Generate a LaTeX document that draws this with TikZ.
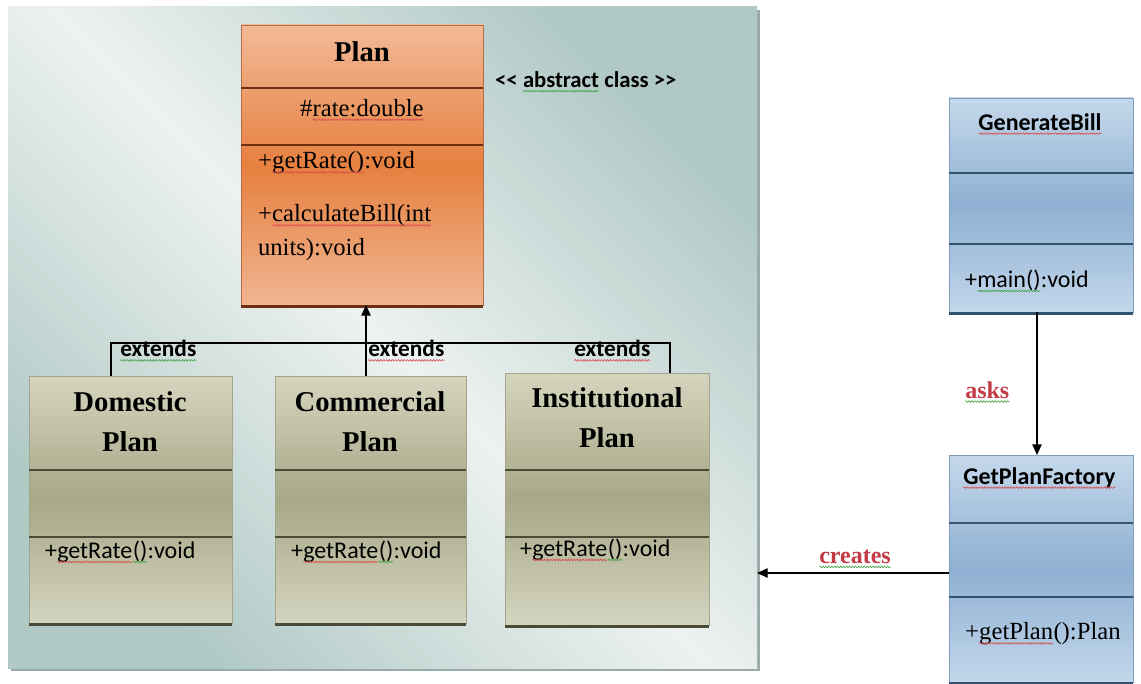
\documentclass[tikz,border=0pt]{standalone}
\usepackage{fontspec}
\setmainfont{Liberation Serif}
\newfontfamily\calibri{Carlito}
\usetikzlibrary{arrows.meta,positioning,fit,decorations.pathmorphing}
\definecolor{panelteal}{HTML}{B0C9C5}
\definecolor{panellight}{HTML}{EDF2F1}
\definecolor{panelshadow}{HTML}{9AAAA8}
\definecolor{orangetop}{HTML}{F2BA97}
\definecolor{orangemid}{HTML}{E6803F}
\definecolor{orangebot}{HTML}{F0B490}
\definecolor{orangeedge}{HTML}{B86A44}
\definecolor{orangedark}{HTML}{6E2E12}
\definecolor{olivetop}{HTML}{D4D5BD}
\definecolor{olivemid}{HTML}{A7A887}
\definecolor{olivebot}{HTML}{D4D5BF}
\definecolor{oliveedge}{HTML}{A3A48A}
\definecolor{olivedark}{HTML}{4A4B36}
\definecolor{bluetop}{HTML}{C5D8EB}
\definecolor{bluemid}{HTML}{8EB0D2}
\definecolor{bluebot}{HTML}{C3D7EB}
\definecolor{blueedge}{HTML}{7E9DBC}
\definecolor{bluedark}{HTML}{34536F}
\definecolor{labelred}{HTML}{C23B45}
\definecolor{squigred}{HTML}{D8494B}
\definecolor{squiggreen}{HTML}{3FA043}

% wavy spell-check underline below a word
\newcommand\squig[2]{\tikz[baseline=(sq.base)]{\node[inner sep=0pt,outer sep=0pt] (sq) {#2};
  \draw[#1,line width=0.45pt,decorate,decoration={snake,amplitude=0.6pt,segment length=2.2pt}]
    ([yshift=-2.6pt]sq.base west) -- ([yshift=-2.6pt]sq.base east);}}

\begin{document}
\begin{tikzpicture}[x=0.75pt,y=-0.75pt]
\tikzstyle{plain}=[inner sep=0pt,outer sep=0pt]
\tikzstyle{orangebox}=[plain,draw=orangeedge,top color=orangetop,bottom color=orangebot,middle color=orangemid]
\tikzstyle{olivebox}=[plain,draw=oliveedge,top color=olivetop,bottom color=olivebot,middle color=olivemid]
\tikzstyle{bluebox}=[plain,draw=blueedge,top color=bluetop,bottom color=bluebot,middle color=bluemid]
\tikzstyle{sep}=[line width=1.5pt]
\tikzstyle{title}=[plain,font=\fontsize{21.5}{30}\selectfont\bfseries,align=center]
\tikzstyle{member}=[plain,font=\fontsize{18.5}{25.5}\selectfont,anchor=west,align=left]
\tikzstyle{sansmember}=[plain,font=\calibri\fontsize{18}{22}\selectfont,anchor=west]
\tikzstyle{sanshead}=[plain,font=\calibri\bfseries\fontsize{18}{22}\selectfont]
\tikzstyle{extlabel}=[plain,font=\calibri\bfseries\fontsize{17.5}{20}\selectfont,anchor=west]
\tikzstyle{redlabel}=[plain,font=\bfseries\fontsize{18}{22}\selectfont,text=labelred]
\tikzstyle{line}=[line width=1pt]
\tikzstyle{arrow}=[line width=1pt,-{Triangle[width=7pt,length=8pt]}]

\useasboundingbox (0,0) rectangle (1141,684);
\fill[white] (0,0) rectangle (1141,684);

% shaded panel holding the plan hierarchy
\fill[panelshadow] (11,10) rectangle (760,671);
\node[plain,fit={(8,7) (757,668)},left color=panelteal,right color=panelteal,middle color=panellight,shading angle=-45] (panel) {};

% abstract class
\node[orangebox,fit={(241,25) (483,305)}] (plan) {};
\draw[orangedark,line width=2.5pt] ([yshift=-1pt]plan.south west) -- ([yshift=-1pt]plan.south east);
\draw[sep,orangedark] (plan.west |- 0,88) -- (plan.east |- 0,88);
\draw[sep,orangedark] (plan.west |- 0,145) -- (plan.east |- 0,145);
\node[title] (plantitle) at (362,52) {Plan};
\node[plain,font=\fontsize{18.5}{25.5}\selectfont] (rate) at (362,110) {\#\squig{squigred}{rate:double}};
\node[member] (getrate) at (258,163) {+\squig{squigred}{getRate()}:void};
\node[member] (calcbill) at (258,233) {+\squig{squigred}{calculateBill(int}\\units):void};
\node[plain,font=\calibri\bfseries\fontsize{17}{20}\selectfont,anchor=west] (abstract) at (495,82)
  {<\kern0pt< \squig{squiggreen}{abstract} class >\kern0pt>};

% concrete plans
\node[olivebox,fit={(29,376) (232,623)}] (domestic) {};
\node[olivebox,fit={(275,376) (466,623)}] (commercial) {};
\node[olivebox,fit={(505,373) (709,625)}] (institutional) {};
\foreach \cls in {domestic,commercial,institutional}{
  \draw[olivedark,line width=2.5pt] ([yshift=-1pt]\cls.south west) -- ([yshift=-1pt]\cls.south east);
  \draw[sep,olivedark] (\cls.west |- 0,470) -- (\cls.east |- 0,470);
  \draw[sep,olivedark] (\cls.west |- 0,537) -- (\cls.east |- 0,537);
}
\node[title] (domestictitle) at (130,422) {Domestic\\Plan};
\node[title] (commercialtitle) at (370,422) {Commercial\\Plan};
\node[title] (institutionaltitle) at (607,418) {Institutional\\Plan};
\node[sansmember] (domesticrate) at (45,552) {+\squig{squigred}{getRate}\squig{squiggreen}{()}:void};
\node[sansmember] (commercialrate) at (291,552) {+\squig{squigred}{getRate}\squig{squiggreen}{()}:void};
\node[sansmember] (institutionalrate) at (520,550) {+\squig{squigred}{getRate}\squig{squiggreen}{()}:void};

% inheritance lines
\coordinate (hub) at (366,343);
\coordinate (hubleft) at (111,343);
\coordinate (hubright) at (670,343);
\draw[line] (domestic.north -| hubleft) -- (hubleft) -- (hubright) -- (institutional.north -| hubright);
\draw[line] (commercial.north -| hub) -- (hub);
\draw[arrow] (hub) -- (plan.south -| hub);
\node[extlabel] (ext1) at (120,351) {\squig{squiggreen}{extends}};
\node[extlabel] (ext2) at (368,351) {\squig{squigred}{extends}};
\node[extlabel] (ext3) at (574,351) {\squig{squigred}{extends}};

% client and factory
\node[bluebox,fit={(949,98) (1133,312)}] (generate) {};
\node[bluebox,fit={(949,455) (1133,682)}] (factory) {};
\foreach \cls/\ya/\yb in {generate/173/244,factory/523/597}{
  \draw[bluedark,line width=2.5pt] ([yshift=-1pt]\cls.south west) -- ([yshift=-1pt]\cls.south east);
  \draw[sep,bluedark] (\cls.west |- 0,\ya) -- (\cls.east |- 0,\ya);
  \draw[sep,bluedark] (\cls.west |- 0,\yb) -- (\cls.east |- 0,\yb);
}
\node[sanshead] (generatetitle) at (1040,124) {\squig{squigred}{GenerateBill}};
\node[sansmember] (mainop) at (965,281) {+\squig{squiggreen}{main()}:void};
\node[sanshead,anchor=west] (factorytitle) at (963,478) {\squig{squigred}{GetPlanFactory}};
\node[member] (getplan) at (965,634) {+\squig{squigred}{getPlan}():Plan};

\coordinate (askx) at (1037,0);
\coordinate (createy) at (0,573);
\draw[arrow] (generate.south -| askx) -- (factory.north -| askx);
\draw[arrow] (factory.west |- createy) -- (panel.east |- createy);
\node[redlabel,anchor=west] (asks) at (965,392) {\squig{squiggreen}{asks}};
\node[redlabel] (creates) at (855,559) {\squig{squiggreen}{creates}};
\end{tikzpicture}
\end{document}
